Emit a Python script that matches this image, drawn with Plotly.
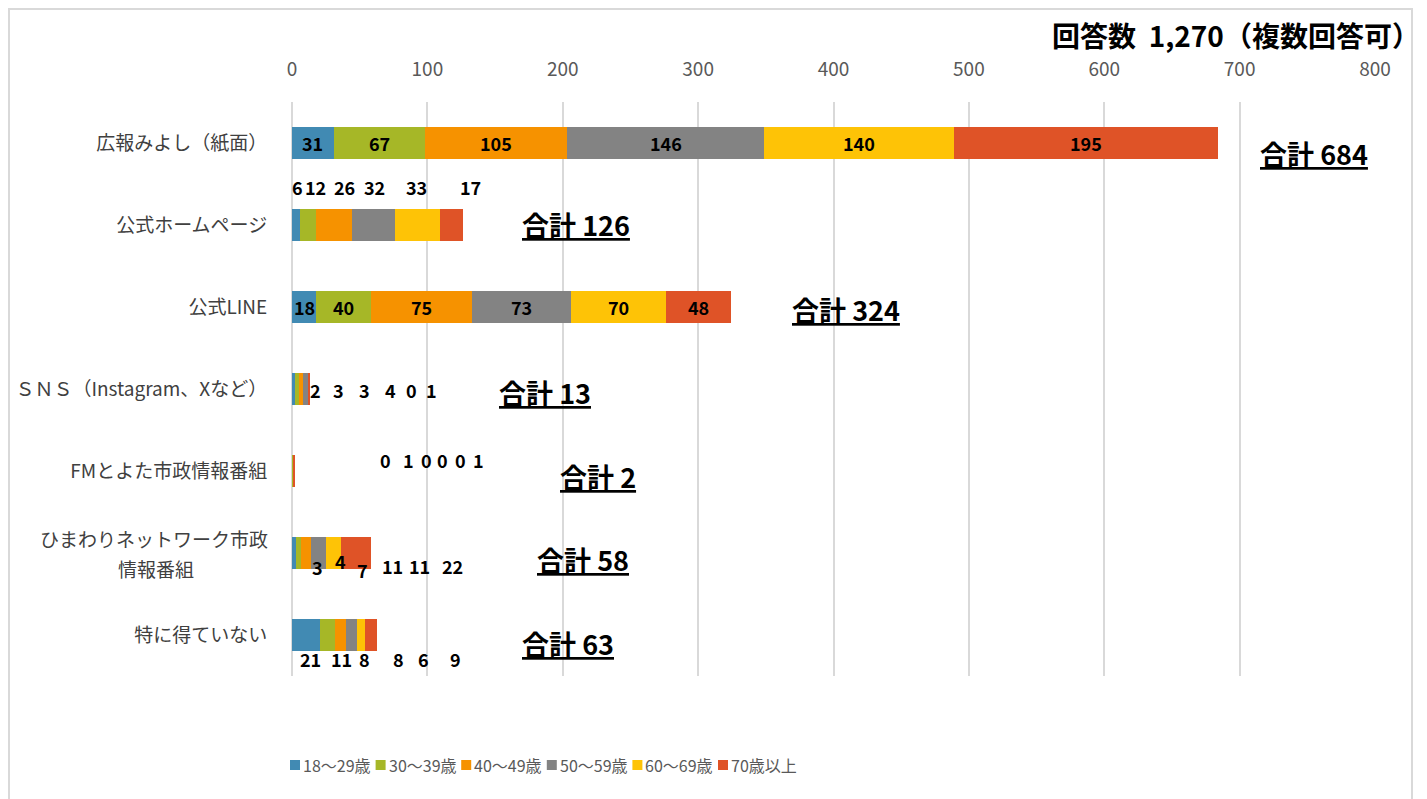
import plotly.graph_objects as go

# ---------------- data ----------------
categories = [
    "広報みよし（紙面）",
    "公式ホームページ",
    "公式LINE",
    "ＳＮＳ（Instagram、Xなど）",
    "FMとよた市政情報番組",
    "ひまわりネットワーク市政情報番組",
    "特に得ていない",
]
# display lines of each category label
label_lines = [
    ["広報みよし（紙面）"],
    ["公式ホームページ"],
    ["公式LINE"],
    ["ＳＮＳ（Instagram、Xなど）"],
    ["FMとよた市政情報番組"],
    ["ひまわりネットワーク市政", "情報番組"],
    ["特に得ていない"],
]
age_groups = ["18～29歳", "30～39歳", "40～49歳", "50～59歳", "60～69歳", "70歳以上"]

age_18_29 = [31, 6, 18, 2, 0, 3, 21]
age_30_39 = [67, 12, 40, 3, 1, 4, 11]
age_40_49 = [105, 26, 75, 3, 0, 7, 8]
age_50_59 = [146, 32, 73, 4, 0, 11, 8]
age_60_69 = [140, 33, 70, 0, 0, 11, 6]
age_70_up = [195, 17, 48, 1, 1, 22, 9]

series = [age_18_29, age_30_39, age_40_49, age_50_59, age_60_69, age_70_up]
x_ticks = [0, 100, 200, 300, 400, 500, 600, 700, 800]
title_text = "回答数  1,270（複数回答可）"

# ---------------- style / layout ----------------
colors = ["#418AB3", "#A6B727", "#F69200", "#838383", "#FEC306", "#DF5327"]
OFF = 8                      # page body margin
W, H = 1427 - OFF, 799 - OFF
L, R, T, B = 292 - OFF, 1375 - OFF, 102 - OFF, 676 - OFF
FONT = "Noto Sans CJK JP"
CAT_SIZE = 19

def px_x(p):
    """page pixel -> paper x"""
    return (p - OFF - L) / (R - L)

def px_y(p):
    """page pixel -> paper y"""
    return (B - (p - OFF)) / (B - T)

# rows whose labels sit inside the bar segments
inside_rows = [0, 2]
# hand-placed label positions (axis units) and vertical pixel shifts for small bars
outside_label_x = {
    1: [4.4, 17.7, 39.0, 60.6, 91.6, 131.5],
    3: [17.7, 34.7, 53.2, 72.4, 88.6, 103.4],
    4: [69.4, 85.7, 99.7, 111.5, 124.1, 137.4],
    5: [19.2, 35.5, 52.4, 74.6, 94.5, 118.2],
    6: [14.0, 36.2, 53.9, 78.3, 96.8, 121.1],
}
outside_label_shift = {
    1: [38] * 6,
    3: [-1] * 6,
    4: [11] * 6,
    5: [-14, -8, -17, -13, -13, -13],
    6: [-24] * 6,
}
total_label_x = [713.6, 168.4, 367.9, 151.4, 196.5, 179.5, 168.4]
total_label_shift = [-10, 1, -2, -3, -5, -6, -8]
legend_x0, legend_step, legend_y = 290, 85.6, 765

fig = go.Figure()
for name, vals, col in zip(age_groups, series, colors):
    fig.add_trace(go.Bar(
        y=categories, x=vals, name=name, orientation="h",
        marker=dict(color=col, line=dict(width=0)),
        showlegend=False,
        hovertemplate="%{y}<br>" + name + ": %{x}<extra></extra>",
    ))

annotations = []
shapes = []

# single-line category labels go on the axis; the two-line one is drawn as annotations
tick_text = [lines[0] if len(lines) == 1 else "" for lines in label_lines]
for cat, lines in zip(categories, label_lines):
    if len(lines) > 1:
        first_w = len(lines[0]) * CAT_SIZE
        annotations.append(dict(
            x=px_x(270), y=cat, xref="paper", yref="y", yshift=15, text=lines[0],
            showarrow=False, xanchor="right", yanchor="middle",
            font=dict(family=FONT, size=CAT_SIZE, color="#404040")))
        annotations.append(dict(
            x=px_x(270 - first_w / 2), y=cat, xref="paper", yref="y", yshift=-15,
            text=lines[1], showarrow=False, xanchor="center", yanchor="middle",
            font=dict(family=FONT, size=CAT_SIZE, color="#404040")))

label_font = dict(family=FONT, size=18, color="#000000", weight="bold")
for r, cat in enumerate(categories):
    vals = [s[r] for s in series]
    if r in inside_rows:
        cum = 0
        for v in vals:
            annotations.append(dict(
                x=cum + v / 2, y=cat, xref="x", yref="y", text=str(v),
                showarrow=False, font=label_font, xanchor="center", yanchor="middle"))
            cum += v
    else:
        for v, lx, sh in zip(vals, outside_label_x[r], outside_label_shift[r]):
            annotations.append(dict(
                x=lx, y=cat, xref="x", yref="y", text=str(v), yshift=sh,
                showarrow=False, font=label_font, xanchor="center", yanchor="middle"))
    total = sum(vals)
    annotations.append(dict(
        x=total_label_x[r], y=cat, xref="x", yref="y", yshift=total_label_shift[r],
        text=f"合計 {total}", showarrow=False, xanchor="left", yanchor="middle",
        font=dict(family=FONT, size=27, color="#000000", weight="bold", lineposition="under"),
    ))

annotations.append(dict(
    x=px_x(1236), y=px_y(35), xref="paper", yref="paper", text=title_text,
    showarrow=False, xanchor="center", yanchor="middle",
    font=dict(family=FONT, size=28, color="#000000", weight="bold"),
))

# legend (drawn as keyed squares + text)
for i, (name, col) in enumerate(zip(age_groups, colors)):
    sx = legend_x0 + i * legend_step
    shapes.append(dict(
        type="rect", xref="paper", yref="paper",
        x0=px_x(sx), x1=px_x(sx + 10), y0=px_y(legend_y + 5), y1=px_y(legend_y - 5),
        fillcolor=col, line=dict(width=0),
    ))
    annotations.append(dict(
        x=px_x(sx + 11), y=px_y(legend_y), xref="paper", yref="paper", text=name,
        showarrow=False, xanchor="left", yanchor="middle",
        font=dict(family=FONT, size=16, color="#595959"),
    ))

shapes.append(dict(
    type="rect", xref="paper", yref="paper",
    x0=px_x(9), x1=px_x(1412), y0=px_y(800), y1=px_y(9),
    line=dict(color="#D9D9D9", width=2), layer="below",
))

fig.update_layout(
    width=W, height=H,
    margin=dict(l=L, r=W - R, t=T, b=H - B, pad=0, autoexpand=False),
    paper_bgcolor="white", plot_bgcolor="white",
    barmode="stack", bargap=0.61,
    showlegend=False,
    font=dict(family=FONT, color="#595959"),
    xaxis=dict(
        side="top", range=[0, 800], tickvals=x_ticks, ticktext=[str(t) for t in x_ticks],
        showgrid=True, gridcolor="#D9D9D9", gridwidth=2,
        zeroline=True, zerolinecolor="#D9D9D9", zerolinewidth=2,
        showline=False, ticks="outside", ticklen=17, tickcolor="rgba(0,0,0,0)",
        tickfont=dict(family=FONT, size=19, color="#595959"), automargin=False,
    ),
    yaxis=dict(
        categoryorder="array", categoryarray=categories, autorange="reversed",
        tickvals=categories, ticktext=tick_text,
        showgrid=False, zeroline=False, showline=False,
        ticks="outside", ticklen=20, tickcolor="rgba(0,0,0,0)",
        tickfont=dict(family=FONT, size=CAT_SIZE, color="#404040"), automargin=False,
    ),
    annotations=annotations,
    shapes=shapes,
)

fig.write_html("out.html")
